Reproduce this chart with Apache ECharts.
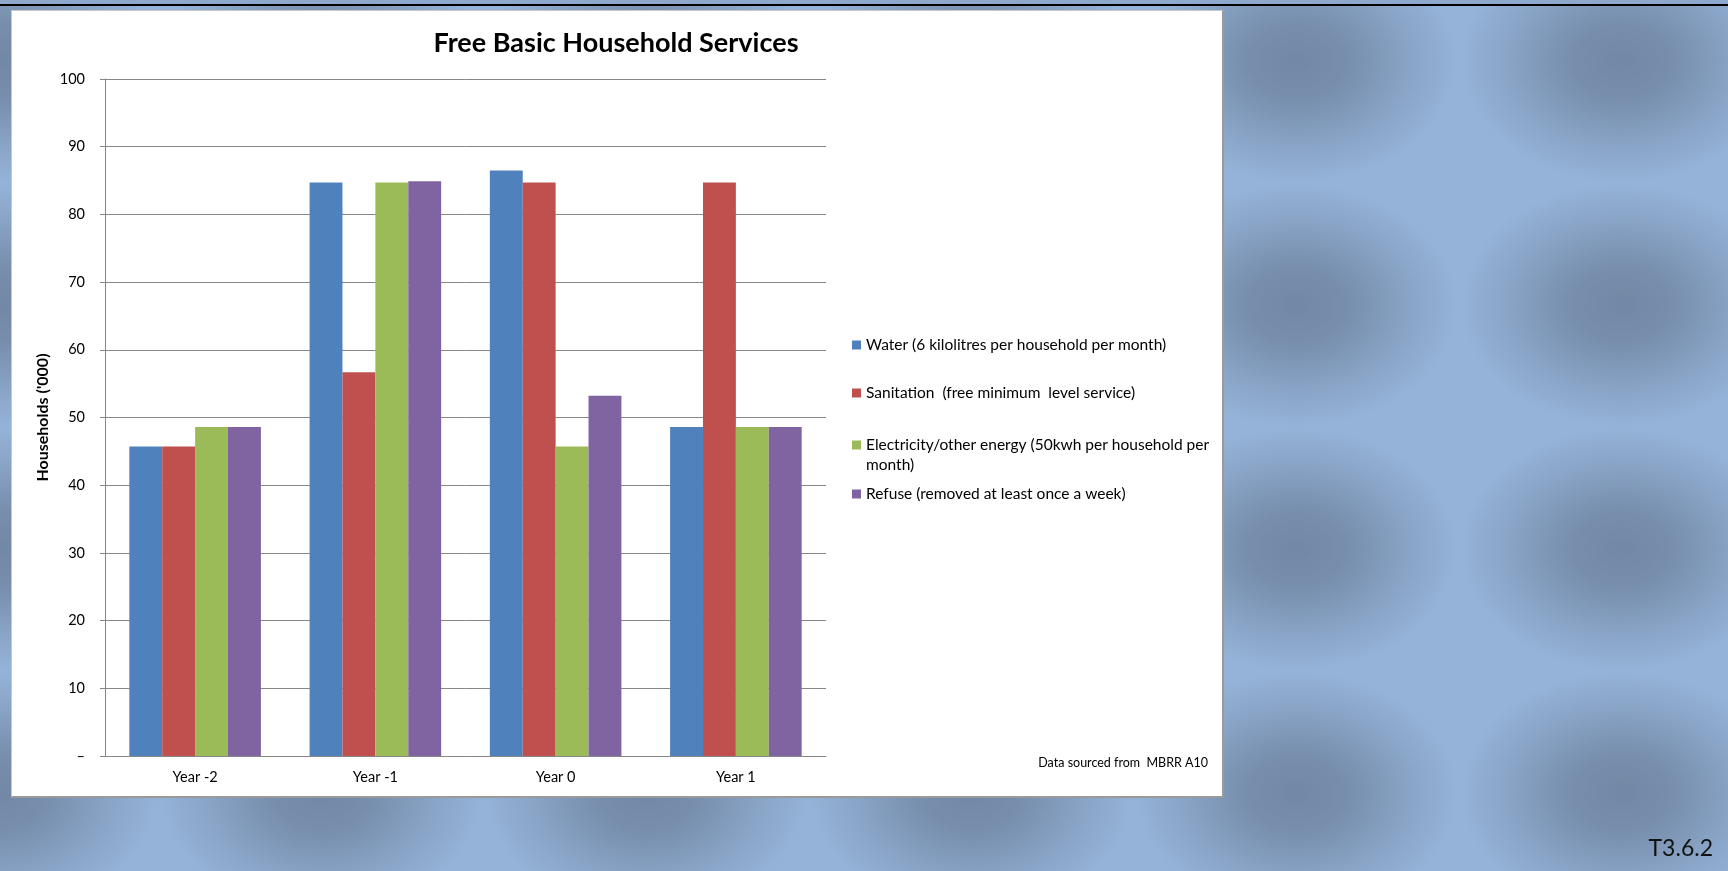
<!DOCTYPE html>
<html>
<head>
<meta charset="utf-8">
<script src="https://cdn.jsdelivr.net/npm/echarts@6/dist/echarts.min.js"></script>
<style>
  html, body { margin: 0; padding: 0; width: 1728px; height: 871px; overflow: hidden; }
  body {
    position: relative;
    background-color: #95b3d8;
    background-image:
      radial-gradient(ellipse 162px 122px at 50% 50%,
        rgba(70,80,100,0.44) 0%, rgba(70,80,100,0.38) 30%,
        rgba(70,80,100,0.16) 68%, rgba(70,80,100,0) 100%);
    background-size: 325px 244px;
    background-position: -166px -61px;
  }
  #topbar { position: absolute; left: 0; top: 0; width: 1728px; height: 4px; background: #8fa9cc; }
  #rule { position: absolute; left: 0; top: 4px; width: 1728px; height: 2px; background: #000; }
  #panel {
    position: absolute; left: 11px; top: 10px; width: 1210px; height: 785px;
    background: #fff;
    border-top: 1px solid #c8c8c8; border-left: 1px solid #c8c8c8;
    border-right: 2px solid #9a9a9a; border-bottom: 2px solid #9a9a9a;
  }
  #chart { position: absolute; left: 0; top: 0; width: 1728px; height: 871px; }
</style>
</head>
<body>
<div id="topbar"></div>
<div id="rule"></div>
<div id="panel"></div>
<div id="chart"></div>
<script>
// Household counts ('000) per service, per financial year
const categories = ['Year -2', 'Year -1', 'Year 0', 'Year 1'];
const water       = [45.7, 84.7, 86.5, 48.6];
const sanitation  = [45.7, 56.7, 84.7, 84.7];
const electricity = [48.6, 84.7, 45.7, 48.6];
const refuse      = [48.6, 84.9, 53.2, 48.6];
const seriesNames = [
  'Water (6 kilolitres per household per month)',
  'Sanitation  (free minimum  level service)',
  'Electricity/other energy (50kwh per household per month)',
  'Refuse (removed at least once a week)'
];
const yTicks = [0, 10, 20, 30, 40, 50, 60, 70, 80, 90, 100];

const colors = ['#4f81bd', '#c0504d', '#9bbb59', '#8064a2'];
const values = [water, sanitation, electricity, refuse];
const FONT = 'Lato, "Open Sans", sans-serif';

const chart = echarts.init(document.getElementById('chart'), null, { renderer: 'canvas' });

// one legend block per series so each entry can be placed on its own row;
// the electricity entry wraps onto a second line, with its swatch beside the first
const legendTops = [335, 383, 415, 484];
const legends = seriesNames.map((name, i) => ({
  data: [name],
  orient: 'vertical',
  left: 852,
  top: legendTops[i],
  padding: 0,
  icon: 'rect',
  itemWidth: 9,
  itemHeight: 9,
  itemGap: 0,
  selectedMode: false,
  formatter: i === 2
    ? function () { return '\nElectricity/other energy (50kwh per household per\nmonth)'; }
    : '{name}',
  textStyle: { fontFamily: FONT, fontSize: 15.5, color: '#000', lineHeight: 20 }
}));

chart.setOption({
  backgroundColor: 'transparent',
  animation: false,
  color: colors,
  title: {
    text: 'Free Basic Household Services',
    left: 611,
    top: 25,
    textAlign: 'center',
    textStyle: { fontFamily: FONT, fontSize: 27, fontWeight: 'bold', color: '#000' }
  },
  legend: legends,
  grid: { left: 105, right: 902, top: 79, bottom: 115, containLabel: false },
  xAxis: {
    type: 'category',
    data: categories,
    axisLine: { show: true, lineStyle: { color: '#878787', width: 1 } },
    axisTick: { show: false },
    axisLabel: { fontFamily: FONT, fontSize: 14.5, color: '#000', margin: 14 },
    splitLine: { show: false }
  },
  yAxis: {
    type: 'value',
    min: yTicks[0],
    max: yTicks[yTicks.length - 1],
    interval: yTicks[1] - yTicks[0],
    name: "Households ('000)",
    nameLocation: 'middle',
    nameGap: 54,
    nameRotate: 90,
    nameTextStyle: { fontFamily: FONT, fontSize: 16, fontWeight: 'bold', color: '#000' },
    axisLine: { show: true, lineStyle: { color: '#878787', width: 1 } },
    axisTick: { show: true, length: 5, lineStyle: { color: '#878787' } },
    axisLabel: {
      fontFamily: FONT, fontSize: 14.5, color: '#000', margin: 20,
      formatter: v => (v === 0 ? '–' : String(v))
    },
    splitLine: { show: true, lineStyle: { color: '#878787', width: 1 } }
  },
  series: seriesNames.map((name, i) => ({
    name: name,
    type: 'bar',
    data: values[i],
    barGap: '0%',
    barCategoryGap: '27%',
    itemStyle: { color: colors[i] }
  })),
  graphic: [
    {
      type: 'text',
      x: 1208,
      y: 763,
      style: {
        text: 'Data sourced from  MBRR A10', font: '12.5px ' + FONT, fill: '#000',
        align: 'right', verticalAlign: 'middle'
      }
    },
    {
      type: 'text',
      x: 1713,
      y: 849,
      style: {
        text: 'T3.6.2', font: '23px ' + FONT, fill: '#111',
        align: 'right', verticalAlign: 'middle'
      }
    }
  ]
});
</script>
</body>
</html>
